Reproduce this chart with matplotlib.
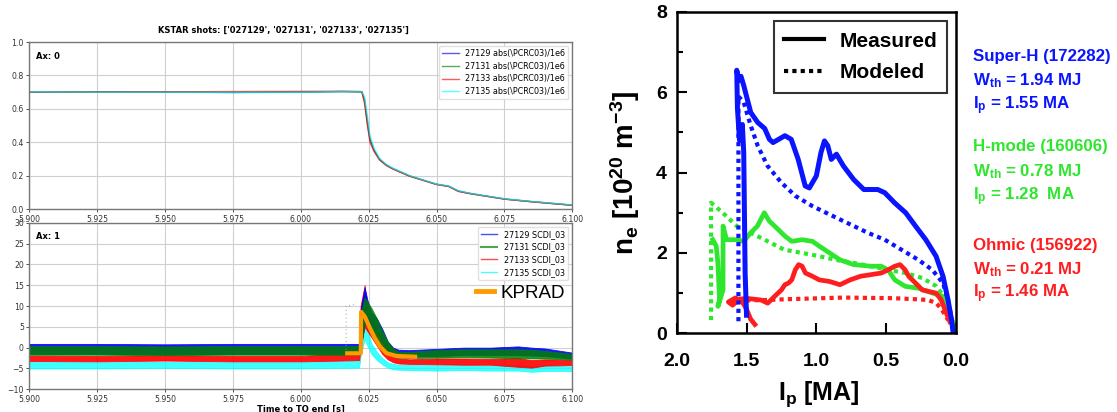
import matplotlib
matplotlib.use("Agg")
import matplotlib.pyplot as plt
from matplotlib.lines import Line2D

plt.rcParams["mathtext.fontset"] = "custom"
for k in ("rm", "it", "bf", "sf"):
    plt.rcParams["mathtext." + k] = "Liberation Sans:bold"

# ---------------- left: KSTAR shots ----------------
SHOTS = ["27129", "27131", "27133", "27135"]
SHOT_COLORS = ["#0000ff", "#008000", "#ff0000", "#00ffff"]

# Ax 0: abs(PCRC03)/1e6
t_ip = [5.900, 5.925, 5.950, 5.975, 6.000, 6.015, 6.0225, 6.0235, 6.0245, 6.0255,
        6.027, 6.029, 6.0315, 6.034, 6.040, 6.045, 6.050, 6.0545, 6.058, 6.062,
        6.068, 6.075, 6.085, 6.095, 6.100]
ip_27129 = [0.700, 0.701, 0.700, 0.698, 0.700, 0.704, 0.703, 0.655, 0.530, 0.420,
            0.355, 0.300, 0.265, 0.243, 0.200, 0.175, 0.150, 0.138, 0.110, 0.096,
            0.080, 0.062, 0.046, 0.032, 0.025]
ip_27131 = [0.700, 0.702, 0.701, 0.699, 0.701, 0.703, 0.702, 0.645, 0.520, 0.410,
            0.350, 0.297, 0.263, 0.241, 0.199, 0.174, 0.149, 0.137, 0.108, 0.095,
            0.079, 0.061, 0.045, 0.031, 0.024]
ip_27133 = [0.699, 0.700, 0.702, 0.704, 0.705, 0.706, 0.703, 0.630, 0.505, 0.400,
            0.345, 0.295, 0.262, 0.240, 0.198, 0.173, 0.148, 0.136, 0.107, 0.094,
            0.079, 0.061, 0.045, 0.031, 0.024]
ip_27135 = [0.701, 0.700, 0.700, 0.699, 0.700, 0.704, 0.704, 0.670, 0.560, 0.440,
            0.365, 0.305, 0.268, 0.245, 0.202, 0.176, 0.151, 0.139, 0.111, 0.097,
            0.081, 0.063, 0.047, 0.033, 0.026]

# Ax 1: SCDI_03 (noisy traces, given as lower / upper envelope)
t_sc = [5.900, 5.925, 5.950, 5.975, 6.000, 6.0215, 6.0220, 6.0235, 6.0245, 6.026,
        6.028, 6.030, 6.032, 6.034, 6.036, 6.040, 6.050, 6.060, 6.070, 6.080,
        6.085, 6.090, 6.100]
sc_27129_hi = [0.9, 0.9, 0.8, 0.9, 0.9, 0.9, 9.0, 14.5, 11.5, 8.5,
               7.0, 4.5, 1.5, 0.0, -0.5, -0.6, -0.3, 0.0, 0.0, 0.3,
               0.0, -0.2, -1.2]
sc_27129_lo = [-1.5, -1.5, -1.6, -1.5, -1.5, -1.5, 0.0, 6.0, 6.0, 5.0,
               3.5, 1.5, -0.5, -1.5, -2.0, -2.0, -2.0, -1.8, -1.8, -1.8,
               -1.9, -2.0, -2.6]
sc_27131_hi = [0.4, 0.4, 0.3, 0.4, 0.4, 0.4, 8.0, 12.0, 11.0, 9.5,
               7.0, 4.0, 1.5, -0.2, -1.0, -1.0, -0.6, -0.4, -0.4, -0.4,
               -0.5, -0.8, -1.5]
sc_27131_lo = [-1.7, -1.7, -1.8, -1.7, -1.7, -1.7, -1.0, 6.0, 6.0, 4.5,
               2.5, 0.5, -1.0, -2.0, -2.4, -2.5, -2.4, -2.3, -2.4, -2.5,
               -2.6, -2.6, -2.9]
sc_27133_hi = [-1.9, -2.0, -1.8, -2.0, -2.0, -1.2, 10.0, 15.0, 9.0, 6.5,
               4.0, 1.5, -0.5, -2.0, -2.6, -2.8, -2.6, -2.6, -2.7, -2.5,
               -3.0, -2.8, -3.0]
sc_27133_lo = [-3.2, -3.3, -3.1, -3.3, -3.3, -3.0, 0.0, 5.0, 4.0, 2.5,
               0.5, -1.5, -2.8, -3.5, -3.8, -3.9, -4.0, -4.1, -4.1, -4.6,
               -4.8, -4.3, -4.2]
sc_27135_hi = [-3.4, -3.5, -3.4, -3.5, -3.5, -3.0, 4.0, 7.5, 4.5, 1.0,
               -1.0, -2.5, -3.5, -3.9, -4.1, -4.1, -4.2, -4.2, -4.3, -4.2,
               -4.5, -4.3, -4.5]
sc_27135_lo = [-5.0, -5.0, -4.9, -5.0, -5.0, -4.8, -2.0, 2.0, 0.5, -1.5,
               -3.0, -4.0, -4.8, -5.2, -5.3, -5.4, -5.5, -5.4, -5.5, -5.5,
               -5.8, -5.6, -5.6]

# KPRAD model overlay
t_kprad = [6.0171, 6.0221, 6.0222, 6.0236, 6.0255, 6.0273, 6.0292, 6.0316, 6.0353, 6.0421]
kprad = [-1.36, -1.36, 8.6, 7.43, 4.65, 2.25, 0.23, -1.36, -2.0, -2.17]

# faint dotted marker trace before the spike
t_dots = [6.0167, 6.0167, 6.0195]
dots = [-0.5, 10.0, 10.3]

# ---------------- right: ne vs Ip ----------------
sh_meas_ip = [1.50, 1.51, 1.515, 1.52, 1.53, 1.55, 1.565, 1.57, 1.555, 1.54, 1.52, 1.47,
              1.42, 1.37, 1.336, 1.31, 1.27, 1.225, 1.18, 1.13, 1.08, 1.05, 1.00,
              0.967, 0.942, 0.918, 0.893, 0.856, 0.807, 0.733, 0.66, 0.56, 0.51,
              0.44, 0.36, 0.29, 0.216, 0.143, 0.093, 0.057, 0.032, 0.02]
sh_meas_ne = [0.45, 1.5, 3.0, 4.5, 5.2, 4.8, 5.6, 6.55, 6.3, 6.4, 6.17, 5.5,
              5.25, 5.1, 4.83, 4.75, 4.83, 4.92, 4.83, 4.33, 3.67, 3.62, 3.92,
              4.5, 4.79, 4.67, 4.33, 4.46, 4.17, 3.83, 3.58, 3.58, 3.5,
              3.25, 3.0, 2.67, 2.33, 1.92, 1.42, 0.83, 0.33, 0.0]
sh_mod_ip = [1.558, 1.558, 1.52, 1.47, 1.42, 1.35, 1.25, 1.15, 1.03, 0.93, 0.78,
             0.63, 0.51, 0.39, 0.27, 0.17, 0.093, 0.057, 0.02]
sh_mod_ne = [0.3, 5.9, 5.75, 5.17, 4.67, 4.17, 3.75, 3.42, 3.17, 3.0, 2.75,
             2.5, 2.33, 2.08, 1.83, 1.58, 1.25, 0.83, 0.17]

hm_meas_ip = [1.742, 1.717, 1.705, 1.693, 1.705, 1.668, 1.668, 1.643, 1.569, 1.52,
              1.471, 1.422, 1.373, 1.336, 1.299, 1.225, 1.176, 1.102, 1.028, 0.979,
              0.905, 0.831, 0.733, 0.61, 0.536, 0.487, 0.438, 0.364, 0.266, 0.167,
              0.093, 0.057, 0.032, 0.007]
hm_meas_ne = [2.33, 2.17, 1.75, 0.83, 0.67, 1.08, 2.67, 2.33, 2.33, 2.29,
              2.5, 2.67, 3.0, 2.79, 2.67, 2.42, 2.29, 2.33, 2.29, 2.17,
              2.0, 1.83, 1.71, 1.67, 1.67, 1.58, 1.33, 1.17, 1.12, 1.0,
              0.92, 0.67, 0.33, 0.08]
hm_mod_ip = [1.754, 1.754, 1.67, 1.57, 1.47, 1.37, 1.23, 1.10, 0.98, 0.86, 0.73,
             0.61, 0.49, 0.36, 0.24, 0.14, 0.069, 0.02]
hm_mod_ne = [0.33, 3.25, 3.0, 2.67, 2.5, 2.33, 2.08, 2.0, 1.92, 1.83, 1.75,
             1.67, 1.58, 1.5, 1.375, 1.17, 0.83, 0.25]

oh_meas_ip = [1.44, 1.47, 1.50, 1.53, 1.58, 1.63, 1.60, 1.55, 1.50, 1.45, 1.397,
              1.348, 1.299, 1.25, 1.225, 1.20, 1.176, 1.151, 1.127, 1.102, 1.078,
              1.028, 0.979, 0.905, 0.831, 0.758, 0.684, 0.61, 0.536, 0.487, 0.438,
              0.401, 0.364, 0.339, 0.29, 0.241, 0.192, 0.143, 0.106, 0.069, 0.044]
oh_meas_ne = [0.22, 0.35, 0.6, 0.78, 0.88, 0.78, 0.7, 0.85, 0.87, 0.85, 0.83,
              0.75, 0.92, 1.08, 1.21, 1.25, 1.33, 1.58, 1.71, 1.67, 1.5,
              1.42, 1.33, 1.29, 1.21, 1.33, 1.42, 1.46, 1.5, 1.58, 1.67,
              1.71, 1.58, 1.42, 1.25, 1.08, 1.04, 1.0, 0.83, 0.5, 0.29]
oh_mod_ip = [1.62, 1.5, 1.35, 1.2, 1.0, 0.8, 0.6, 0.45, 0.3, 0.2, 0.14, 0.1, 0.057]
oh_mod_ne = [0.75, 0.82, 0.83, 0.85, 0.87, 0.89, 0.88, 0.875, 0.85, 0.83, 0.75, 0.58, 0.33]

CASES = [
    ("Super-H (172282)", "1.94", "1.55"),
    ("H-mode (160606)", "0.78", "1.28 "),
    ("Ohmic (156922)", "0.21", "1.46"),
]
BLUE, GREEN, RED = "#0a14ff", "#2ee62e", "#ff1e1e"

fig = plt.figure(figsize=(11.17, 4.12), dpi=100)

# ---- left panels ----
ax0 = fig.add_axes([29.3 / 1117, 1 - 209.3 / 412, 543 / 1117, 167.3 / 412])
ax1 = fig.add_axes([29.3 / 1117, 1 - 389.3 / 412, 543 / 1117, 166.6 / 412])

for ax in (ax0, ax1):
    ax.set_xlim(5.9, 6.1)
    ax.set_xticks([5.9 + 0.025 * i for i in range(9)])
    ax.set_xticklabels(["%.3f" % (5.9 + 0.025 * i) for i in range(9)])
    ax.grid(True, color="#cfcfcf", lw=0.8)
    ax.set_axisbelow(True)
    ax.tick_params(labelsize=5.6, colors="#333333", length=2.5, width=0.6, pad=1.5)
    for sp in ax.spines.values():
        sp.set_color("#777777")
        sp.set_linewidth(1.0)

ip_series = [ip_27129, ip_27131, ip_27133, ip_27135]
for shot, vals, col in zip(SHOTS, ip_series, SHOT_COLORS):
    ax0.plot(t_ip, vals, color=col, lw=1.0, alpha=0.65,
             label=shot + r" abs(\PCRC03)/1e6")
ax0.set_ylim(0, 1)
ax0.set_yticks([0, 0.2, 0.4, 0.6, 0.8, 1.0])
ax0.set_yticklabels(["0.0", "0.2", "0.4", "0.6", "0.8", "1.0"])
ax0.text(0.012, 0.915, "Ax: 0", transform=ax0.transAxes, fontsize=6,
         fontweight="bold", va="center")
ax0.legend(loc="upper right", fontsize=5.8, borderaxespad=0.5, labelspacing=0.45,
           handlelength=2.0, framealpha=0.9, edgecolor="#dddddd")

sc_bands = [(sc_27129_lo, sc_27129_hi), (sc_27131_lo, sc_27131_hi),
            (sc_27133_lo, sc_27133_hi), (sc_27135_lo, sc_27135_hi)]
handles = []
for shot, col in zip(SHOTS, SHOT_COLORS):
    handles.append(Line2D([], [], color=col, lw=1.5 if col == "#008000" else 1.0,
                          alpha=0.7, label=shot + " SCDI_03"))
# draw order: cyan, red, blue, green (green sits on top of blue as in the shots)
band_alpha = [0.9, 0.85, 0.9, 0.75]
for i in (3, 2, 0, 1):
    lo, hi = sc_bands[i]
    ax1.fill_between(t_sc, lo, hi, color=SHOT_COLORS[i], lw=0.6,
                     edgecolor=SHOT_COLORS[i], alpha=band_alpha[i])
ax1.plot(t_dots, dots, color="#999999", lw=0.7, ls=(0, (1, 3)))
ax1.plot(t_kprad, kprad, color="#ff9a00", lw=3.0, solid_joinstyle="round")
ax1.set_ylim(-10, 30)
ax1.set_yticks(range(-10, 31, 5))
ax1.text(0.012, 0.915, "Ax: 1", transform=ax1.transAxes, fontsize=6,
         fontweight="bold", va="center")
ax1.set_xlabel("Time to TQ end [s]", fontsize=6, fontweight="bold", labelpad=1)
leg1 = ax1.legend(handles=handles, loc="upper right", fontsize=5.8, borderaxespad=0.5,
                  labelspacing=0.45, handlelength=2.0, framealpha=0.9,
                  edgecolor="#dddddd")
ax1.add_artist(leg1)
ax1.legend(handles=[Line2D([], [], color="#ff9a00", lw=3.5)], labels=["KPRAD"],
           loc="center left", bbox_to_anchor=(0.808, 0.576), borderaxespad=0,
           frameon=False, handlelength=1.0, handletextpad=0.35,
           prop={"family": "Liberation Sans", "size": 13.5})

fig.text(283 / 1117, 1 - 30 / 412, "KSTAR shots: ['027129', '027131', '027133', '027135']",
         ha="center", va="center", fontsize=6, fontweight="bold")

# ---- right panel ----
axr = fig.add_axes([676.7 / 1117, 1 - 333.3 / 412, 279.3 / 1117, 321.3 / 412])
dot = (0, (1, 1))
axr.plot(hm_mod_ip, hm_mod_ne, color=GREEN, lw=3, ls=dot)
axr.plot(hm_meas_ip, hm_meas_ne, color=GREEN, lw=3.4)
axr.plot(oh_mod_ip, oh_mod_ne, color=RED, lw=3, ls=dot)
axr.plot(oh_meas_ip, oh_meas_ne, color=RED, lw=3.4)
axr.plot(sh_mod_ip, sh_mod_ne, color=BLUE, lw=3, ls=dot)
axr.plot(sh_meas_ip, sh_meas_ne, color=BLUE, lw=3.6)

axr.set_xlim(2.0, 0.0)
axr.set_ylim(0, 8)
axr.set_xticks([2.0, 1.5, 1.0, 0.5, 0.0])
axr.set_xticklabels(["2.0", "1.5", "1.0", "0.5", "0.0"])
axr.set_yticks([0, 2, 4, 6, 8])
axr.set_yticks([1, 3, 5, 7], minor=True)
axr.tick_params(which="both", direction="in", width=1.5, labelsize=14)
axr.tick_params(which="major", length=7)
axr.tick_params(which="minor", length=4)
axr.tick_params(axis="x", pad=14)
axr.tick_params(axis="y", pad=7)
for lab in axr.get_xticklabels() + axr.get_yticklabels():
    lab.set_fontweight("bold")
    lab.set_family("Liberation Sans")
for sp in axr.spines.values():
    sp.set_linewidth(1.8)

axr.text(-0.183, 0.5, r"n$_\mathbf{e}$ [10$^\mathbf{20}$ m$^\mathbf{-3}$]", transform=axr.transAxes,
         rotation=90, ha="center", va="center", fontsize=20, fontweight="bold",
         family="Liberation Sans")
axr.text(0.509, -0.19, r"I$_\mathbf{p}$ [MA]", transform=axr.transAxes,
         ha="center", va="center", fontsize=18, fontweight="bold",
         family="Liberation Sans")

leg = axr.legend(handles=[Line2D([], [], color="black", lw=3),
                          Line2D([], [], color="black", lw=3, ls=dot)],
                 labels=["Measured", "Modeled"], loc="upper right",
                 bbox_to_anchor=(0.969, 0.971), borderaxespad=0, fancybox=False,
                 edgecolor="black", handlelength=1.9, handletextpad=0.75,
                 borderpad=0.5, labelspacing=0.6,
                 prop={"family": "Liberation Sans", "weight": "bold", "size": 15})
leg.get_frame().set_linewidth(1.5)

text_y = [[57, 81, 106], [147, 171.5, 196.6], [245.8, 270, 294]]
for (name, wth, ip), col, ys in zip(CASES, [BLUE, GREEN, RED], text_y):
    lines = [name, r"W$_\mathbf{th}$ = " + wth + " MJ", r"I$_\mathbf{p}$ = " + ip + " MA"]
    for txt, y in zip(lines, ys):
        fig.text(972.8 / 1117, 1 - y / 412, txt, color=col, fontsize=12.2,
                 fontweight="bold", family="Liberation Sans",
                 ha="left", va="center")

fig.savefig("out.png", dpi=100)
